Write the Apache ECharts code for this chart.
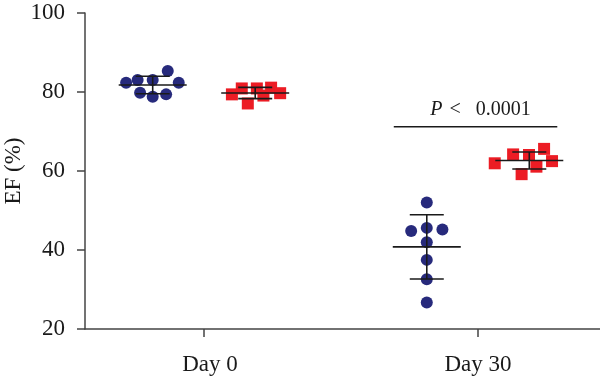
<!DOCTYPE html>
<html><head><meta charset="utf-8">
<script src="https://cdn.jsdelivr.net/npm/echarts@6/dist/echarts.min.js"></script>
<style>html,body{margin:0;padding:0;background:#fff}#c{width:600px;height:379px}</style>
</head><body><div id="c"></div>
<script>
// ---- data ----
const categories = ['Day 0', 'Day 30'];
const yTicks = [20, 40, 60, 80, 100];
const blueDay0 = [82.35, 83.04, 79.82, 83.04, 78.8, 85.3, 79.4, 82.35];
const blueDay0Jitter = [-0.097, -0.055, -0.046, 0, 0, 0.055, 0.049, 0.095];
const redDay0 = [79.4, 80.9, 77.1, 80.9, 79.1, 81.1, 79.7];
const redDay0Jitter = [-0.085, -0.049, -0.027, 0.006, 0.030, 0.058, 0.091];
const blueDay30 = [52.0, 44.8, 45.6, 45.2, 41.95, 37.5, 32.6, 26.7];
const blueDay30Jitter = [0, -0.057, 0, 0.057, 0, 0, 0, 0];
const redDay30 = [61.95, 64.2, 59.2, 64.05, 61.1, 65.6, 62.5];
const redDay30Jitter = [-0.126, -0.059, -0.028, -0.001, 0.026, 0.054, 0.083];
const pLabel = ['P', '<', '0.0001'];
const pLineValue = 71.2;

// ---- helpers ----
const groupOffset = 0.187;
const mean = a => a.reduce((s, v) => s + v, 0) / a.length;
const sd = a => { const m = mean(a); return Math.sqrt(a.reduce((s, v) => s + (v - m) * (v - m), 0) / (a.length - 1)); };
const pts = (vals, jit, cat, side) => vals.map((v, i) => [cat + side * groupOffset + jit[i], v]);

const blueData = pts(blueDay0, blueDay0Jitter, 0, -1).concat(pts(blueDay30, blueDay30Jitter, 1, -1));
const redData = pts(redDay0, redDay0Jitter, 0, 1).concat(pts(redDay30, redDay30Jitter, 1, 1));
const errData = [
  [0 - groupOffset, mean(blueDay0), sd(blueDay0)],
  [0 + groupOffset, mean(redDay0), sd(redDay0)],
  [1 - groupOffset, mean(blueDay30), sd(blueDay30)],
  [1 + groupOffset, mean(redDay30), sd(redDay30)]
];

const font = 'Liberation Serif';
const chart = echarts.init(document.getElementById('c'));
const lineStyle = { stroke: '#1a1a1a', lineWidth: 1.6 };
const axisColor = '#444';

chart.setOption({
  animation: false,
  grid: { left: 85, right: 0, top: 13, bottom: 50, containLabel: false, outerBoundsMode: 'none' },
  xAxis: {
    type: 'value', min: -0.434, max: 1.445,
    axisLine: { show: true, onZero: false, lineStyle: { color: axisColor, width: 1.5 } },
    axisTick: { show: true, customValues: [0, 1], length: 8, lineStyle: { color: axisColor, width: 1.5 } },
    axisLabel: {
      customValues: [0, 1],
      formatter: v => Math.round(v) === 0 ? '{a|' + categories[0] + '}' : categories[Math.round(v)],
      rich: { a: { fontFamily: font, fontSize: 23, color: '#1a1a1a', padding: [0, 0, 0, 12] } },
      fontFamily: font, fontSize: 23, color: '#1a1a1a', margin: 24
    },
    splitLine: { show: false }
  },
  yAxis: {
    type: 'value', min: 20, max: 100, interval: 20,
    name: 'EF (%)', nameLocation: 'middle', nameGap: 60, nameMoveOverlap: false,
    nameTextStyle: { fontFamily: font, fontSize: 23, color: '#1a1a1a' },
    axisLine: { show: true, onZero: false, lineStyle: { color: axisColor, width: 1.5 } },
    axisTick: { show: true, length: 8, lineStyle: { color: axisColor, width: 1.5 } },
    axisLabel: { fontFamily: font, fontSize: 23, color: '#1a1a1a', margin: 20 },
    splitLine: { show: false }
  },
  series: [
    { type: 'scatter', data: blueData, symbol: 'circle', symbolSize: 12, itemStyle: { color: '#272a7c', opacity: 1 }, z: 2 },
    { type: 'scatter', data: redData, symbol: 'rect', symbolSize: 12, itemStyle: { color: '#ec1c24', opacity: 1 }, z: 2 },
    {
      type: 'custom', z: 3, data: errData,
      renderItem: (params, api) => {
        const x = api.value(0), m = api.value(1), s = api.value(2);
        const c = api.coord([x, m]), top = api.coord([x, m + s]), bot = api.coord([x, m - s]);
        return { type: 'group', children: [
          { type: 'line', shape: { x1: c[0] - 34, y1: c[1], x2: c[0] + 34, y2: c[1] }, style: lineStyle },
          { type: 'line', shape: { x1: c[0], y1: top[1], x2: c[0], y2: bot[1] }, style: lineStyle },
          { type: 'line', shape: { x1: c[0] - 17, y1: top[1], x2: c[0] + 17, y2: top[1] }, style: lineStyle },
          { type: 'line', shape: { x1: c[0] - 17, y1: bot[1], x2: c[0] + 17, y2: bot[1] }, style: lineStyle }
        ]};
      }
    },
    {
      type: 'custom', z: 3, data: [[1, pLineValue]],
      renderItem: (params, api) => {
        const left = api.coord([1 - groupOffset, api.value(1)]);
        const right = api.coord([1 + groupOffset, api.value(1)]);
        const x1 = left[0] - 33, x2 = right[0] + 28;
        return { type: 'group', children: [
          { type: 'line', shape: { x1: x1, y1: left[1], x2: x2, y2: left[1] }, style: lineStyle },
          { type: 'text', x: (x1 + x2) / 2 + 5, y: left[1] - 7, style: {
              text: '{i|' + pLabel[0] + '}{l|' + pLabel[1] + '}{n|' + pLabel[2] + '}',
              align: 'center', verticalAlign: 'bottom',
              fontFamily: font, fontSize: 20, fill: '#1a1a1a',
              rich: {
                i: { fontStyle: 'italic', fontFamily: font, fontSize: 20, fill: '#1a1a1a', padding: [0, 7, 0, 0] },
                l: { fontFamily: font, fontSize: 20, fill: '#1a1a1a', padding: [0, 15, 0, 0] },
                n: { fontFamily: font, fontSize: 20, fill: '#1a1a1a' }
              }
          } }
        ]};
      }
    }
  ]
});
</script></body></html>
